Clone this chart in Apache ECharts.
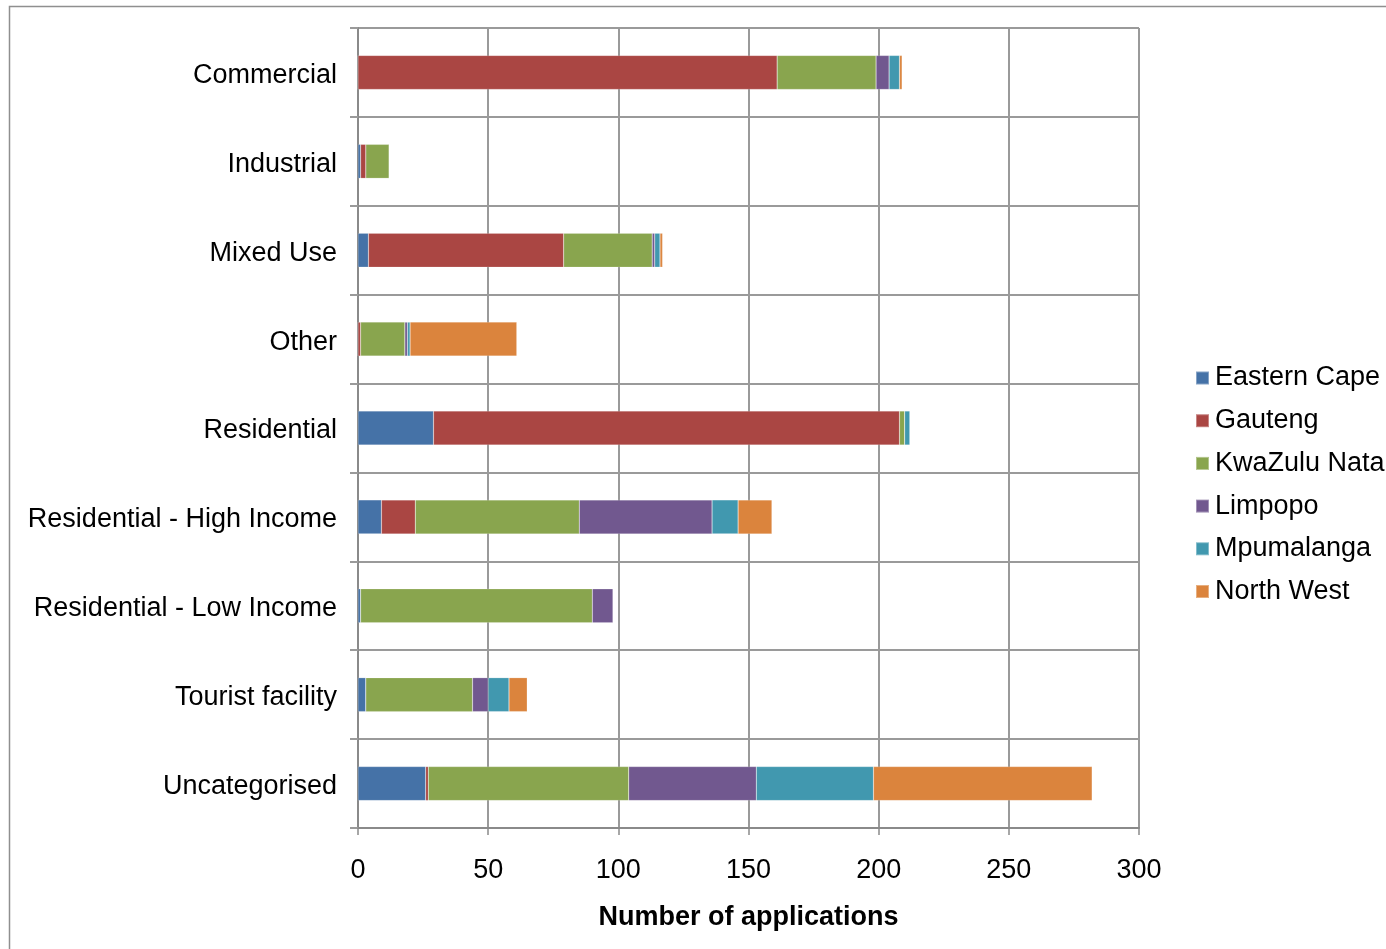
<!DOCTYPE html>
<html>
<head>
<meta charset="utf-8">
<title>Applications by land use and province</title>
<script src="https://cdn.jsdelivr.net/npm/echarts@6/dist/echarts.min.js"></script>
<style>
  html, body { margin: 0; padding: 0; background: #ffffff; }
  #chart { width: 1386px; height: 949px; }
</style>
</head>
<body>
<div id="chart"></div>
<script>
// Land-use categories (top to bottom)
const categories = [
  'Commercial',
  'Industrial',
  'Mixed Use',
  'Other',
  'Residential',
  'Residential - High Income',
  'Residential - Low Income',
  'Tourist facility',
  'Uncategorised'
];

// Number of applications per province, one value per category
const easternCape = [0, 1, 4, 0, 29, 9, 1, 3, 26];
const gauteng     = [161, 2, 75, 1, 179, 13, 0, 0, 1];
const kwaZulu     = [38, 9, 34, 17, 2, 63, 89, 41, 77];
const limpopo     = [5, 0, 1, 1, 0, 51, 8, 6, 49];
const mpumalanga  = [4, 0, 2, 1, 2, 10, 0, 8, 45];
const northWest   = [1, 0, 1, 41, 0, 13, 0, 7, 84];

const provinceNames = ['Eastern Cape', 'Gauteng', 'KwaZulu Natal', 'Limpopo', 'Mpumalanga', 'North West'];
const provinceValues = [easternCape, gauteng, kwaZulu, limpopo, mpumalanga, northWest];
const provinceColors = ['#4572A7', '#AA4643', '#89A54E', '#71588F', '#4198AF', '#DB843D'];

// Value axis ticks
const xTicks = [0, 50, 100, 150, 200, 250, 300];

const FONT = "'Liberation Sans', Arial, sans-serif";
const gridColor = '#9a9a9a';

const chart = echarts.init(document.getElementById('chart'), null, { renderer: 'canvas' });

const option = {
  backgroundColor: '#ffffff',
  animation: false,
  textStyle: { fontFamily: FONT },
  graphic: [{
    type: 'rect',
    shape: { x: 9.5, y: 6.5, width: 1400, height: 1000 },
    style: { fill: 'none', stroke: '#8f8f8f', lineWidth: 1.5 },
    silent: true,
    z: -1
  }],
  grid: { left: 358, right: 247, top: 28, bottom: 121, containLabel: false },
  legend: {
    orient: 'vertical',
    left: 1195,
    top: 363,
    padding: 0,
    itemWidth: 13,
    itemHeight: 13,
    itemGap: 12.7,
    icon: 'rect',
    data: provinceNames,
    textStyle: {
      fontFamily: FONT,
      fontSize: 27,
      color: '#000000',
      lineHeight: 30,
      padding: [0, 0, 0, 1]
    }
  },
  xAxis: {
    type: 'value',
    min: xTicks[0],
    max: xTicks[xTicks.length - 1],
    interval: xTicks[1] - xTicks[0],
    name: 'Number of applications',
    nameLocation: 'middle',
    nameGap: 76,
    nameTextStyle: { fontFamily: FONT, fontSize: 27, fontWeight: 'bold', color: '#000000' },
    axisLine: { show: true, lineStyle: { color: '#8a8a8a', width: 2 } },
    axisTick: { show: true, length: 7, lineStyle: { color: '#8a8a8a', width: 1.5 } },
    axisLabel: { fontFamily: FONT, fontSize: 27, color: '#000000', margin: 29 },
    splitLine: { show: true, lineStyle: { color: gridColor, width: 2 } }
  },
  yAxis: {
    type: 'category',
    data: categories,
    inverse: true,
    axisLine: { show: true, lineStyle: { color: '#8a8a8a', width: 2 } },
    axisTick: { show: true, length: 8, lineStyle: { color: gridColor, width: 2 } },
    axisLabel: {
      margin: 21,
      formatter: (value) => '{cat|' + value + '}',
      rich: {
        cat: {
          fontFamily: FONT,
          fontSize: 27,
          color: '#000000',
          lineHeight: 30,
          padding: [6, 0, 0, 0]
        }
      }
    },
    splitLine: { show: true, lineStyle: { color: gridColor, width: 2 } }
  },
  series: provinceNames.map((name, i) => ({
    name: name,
    type: 'bar',
    stack: 'total',
    barWidth: 34,
    data: provinceValues[i],
    itemStyle: {
      color: provinceColors[i],
      borderColor: 'rgba(255,255,255,0.35)',
      borderWidth: 0.5
    },
    emphasis: { disabled: true }
  }))
};

chart.setOption(option);
</script>
</body>
</html>
